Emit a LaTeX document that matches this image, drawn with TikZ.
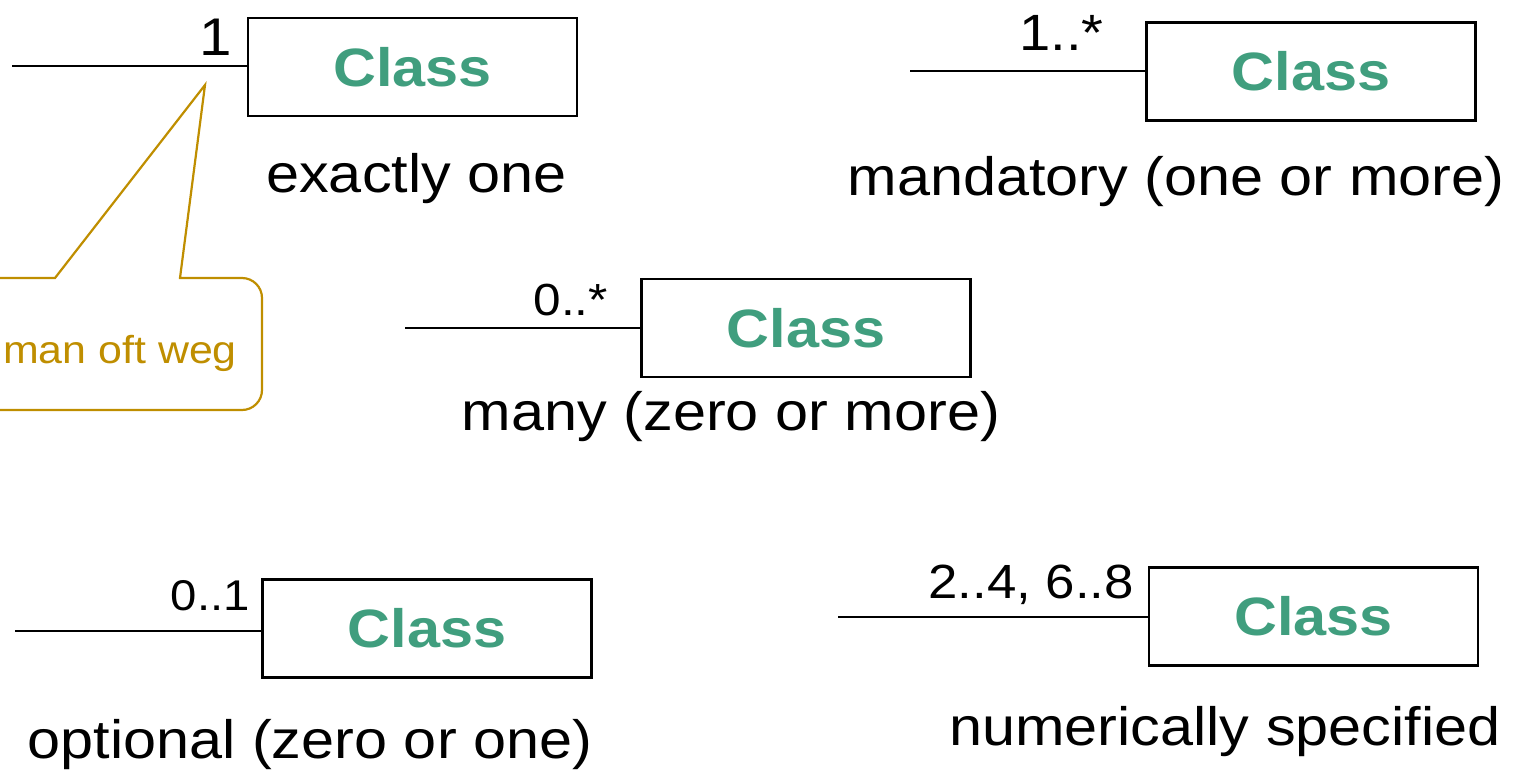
\documentclass[tikz,border=0pt]{standalone}
\usepackage{fontspec}
\setmainfont[FakeStretch=1.1]{Liberation Sans}
\definecolor{classgreen}{RGB}{64,158,126}
\definecolor{gold}{RGB}{191,142,0}
\tikzset{
  classbox/.style={draw=black, line width=2.6pt, minimum width=329pt, minimum height=98pt, inner sep=0pt,
    text=classgreen, font=\fontsize{54}{56}\selectfont\bfseries},
  assoc/.style={draw=black, line width=2.8pt},
  mult/.style={inner sep=0pt, font=\fontsize{#1}{#1}\selectfont},
  mult/.default=50,
  desc/.style={inner sep=0pt, font=\fontsize{54}{57}\selectfont},
  callout/.style={draw=gold, line width=2.2pt},
  callouttext/.style={inner sep=0pt, text=gold, font=\fontsize{39}{41}\selectfont}
}
\begin{document}
\begin{tikzpicture}[x=1pt,y=-1pt]
\useasboundingbox (0,0) rectangle (1517,771);
\clip (0,0) rectangle (1517,771);

% exactly one
\node[classbox] (b1) at (412.5,67) {Class};
\coordinate (e1) at (12,66);
\draw[assoc] (e1) -- (e1 -| b1.west);
\node[mult=53, anchor=base east] (m1) at (232,55) {1};
\node[desc, anchor=base] (d1) at (416.5,192) {exactly one};

% mandatory
\node[classbox] (b2) at (1311,71.5) {Class};
\coordinate (e2) at (910,71);
\draw[assoc] (e2) -- (e2 -| b2.west);
\node[mult=51, anchor=base east] (m2) at (1104,50) {1..*};
\node[desc, anchor=base] (d2) at (1176,195) {mandatory (one or more)};

% many
\node[classbox] (b3) at (806,328) {Class};
\coordinate (e3) at (405,328);
\draw[assoc] (e3) -- (e3 -| b3.west);
\node[mult=45, anchor=base east] (m3) at (608,315) {0..*};
\node[desc, anchor=base] (d3) at (731,430) {many (zero or more)};

% optional
\node[classbox] (b4) at (427,628.5) {Class};
\coordinate (e4) at (15,631);
\draw[assoc] (e4) -- (e4 -| b4.west);
\node[mult=43, anchor=base east] (m4) at (250,610) {0..1};
\node[desc, anchor=base] (d4) at (310,758) {optional (zero or one)};

% numerically specified
\node[classbox] (b5) at (1313.5,616.5) {Class};
\coordinate (e5) at (838,617);
\draw[assoc] (e5) -- (e5 -| b5.west);
\node[mult=48, anchor=base east] (m5) at (1134,598) {2..4, 6..8};
\node[desc, anchor=base] (d5) at (1225,745) {numerically specified};

% callout
\coordinate (tip) at (205,85);
\draw[callout] (-20,278) -- (55,278) -- (tip) -- (180,278)
  [rounded corners=20pt] -- (262,278) -- (262,410) -- (-20,410);
\node[callouttext, anchor=base east] (ct) at (237,363) {man oft weg};
\end{tikzpicture}
\end{document}
